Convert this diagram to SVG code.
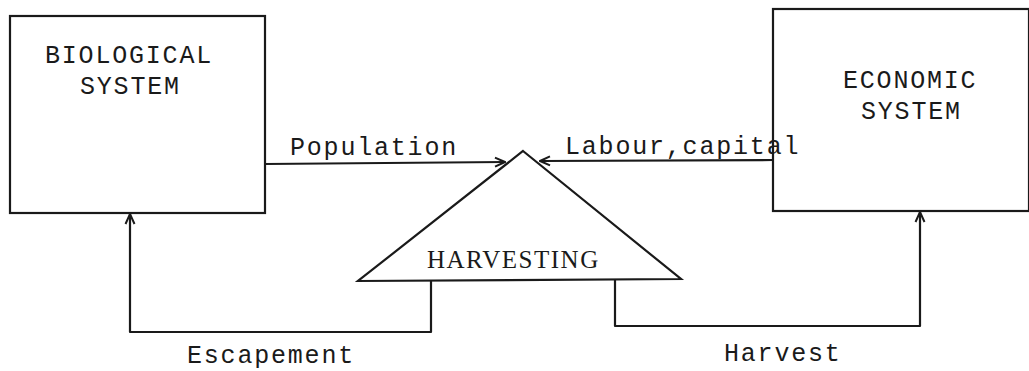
<svg xmlns="http://www.w3.org/2000/svg" width="1029" height="371" viewBox="0 0 1029 371">
<style>
.box{fill:none;stroke:#1a1a1a;stroke-width:2.2}
.ln{fill:none;stroke:#1a1a1a;stroke-width:2.2;stroke-linejoin:round}
.t{font-family:"Liberation Mono","Courier New",monospace;font-size:25px;letter-spacing:1.8px;fill:#1a1a1a}
.h{font-family:"Liberation Serif","Times New Roman",serif;font-size:25px;letter-spacing:1.5px;fill:#1a1a1a}
</style>
<defs>
<marker id="arr" viewBox="0 0 12 12" refX="11" refY="6" markerWidth="12" markerHeight="12" markerUnits="userSpaceOnUse" orient="auto">
<path d="M1,1.5 L11,6 L1,10.5" fill="none" stroke="#1a1a1a" stroke-width="2"/>
</marker>
</defs>
<rect width="1029" height="371" fill="#fff"/>
<g id="biological">
<rect class="box" x="10" y="16" width="255" height="197"/>
<text class="t" x="45" y="63">BIOLOGICAL</text>
<text class="t" x="80" y="94">SYSTEM</text>
</g>
<g id="economic">
<rect class="box" x="773" y="9" width="256" height="202"/>
<text class="t" x="843" y="88">ECONOMIC</text>
<text class="t" x="861" y="119">SYSTEM</text>
</g>
<g id="harvesting">
<polygon class="box" points="523,151 681,279 358,281"/>
<text class="h" x="427" y="268">HARVESTING</text>
</g>
<g id="connectors">
<path class="ln" d="M265,164 L505,162" marker-end="url(#arr)"/>
<path class="ln" d="M773,160 L540,161" marker-end="url(#arr)"/>
<path class="ln" d="M431,281 L431,332 L130,332 L130,214" marker-end="url(#arr)"/>
<path class="ln" d="M615,280 L615,326 L920,326 L920,212" marker-end="url(#arr)"/>
<text class="t" x="290" y="155">Population</text>
<text class="t" x="565" y="154">Labour,capital</text>
<text class="t" x="187" y="363">Escapement</text>
<text class="t" x="724" y="361">Harvest</text>
</g>
</svg>
